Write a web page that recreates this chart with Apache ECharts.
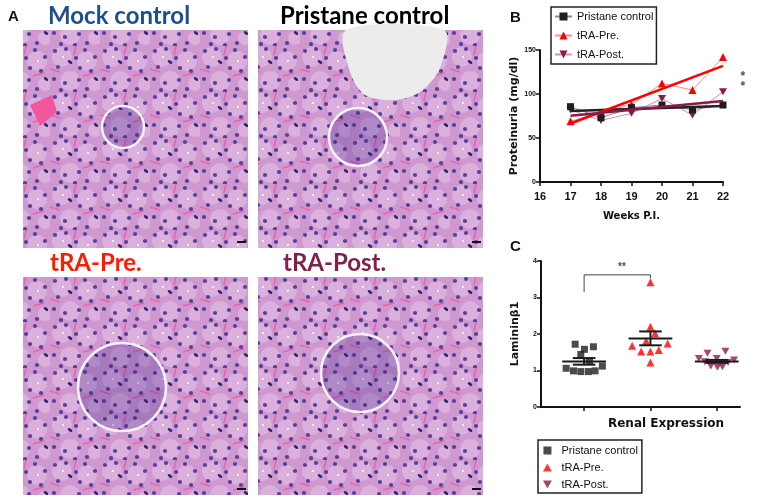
<!DOCTYPE html>
<html><head><meta charset="utf-8">
<script src="https://cdn.jsdelivr.net/npm/echarts@6/dist/echarts.min.js"></script>
<style>html,body{margin:0;padding:0;background:#fff}#c{width:765px;height:499px}</style>
</head><body><div id="c"></div>
<script>
// ---- Panel B: proteinuria over weeks ----
const weeks = [17, 18, 19, 20, 21, 22];
const pristaneProt = [85.6, 73, 84.5, 87.5, 82, 87.5];
const preProt = [69, 79, 88, 112, 104.5, 142];
const postProt = [82, 70, 78, 95, 76, 102.6];
const fitWeeks = [17, 22];
const pristaneFit = [80.7, 86.4];
const preFit = [66.5, 132];
const postFit = [75.4, 92];
const sigBWeek = [22.26, 22.26];
const sigBVals = [139.8, 88.6];
const starsBWeek = [22.65, 22.65];
const starsBVals = [120, 108.5];

// ---- Panel C: Laminin beta1 renal expression ----
const groupNames = ['Pristane control', 'tRA-Pre.', 'tRA-Post.'];
const pristaneLam = [1.72, 1.58, 1.65, 1.44, 1.26, 1.06, 0.99, 0.97, 0.97, 0.99, 1.12];
const pristanePos = [0.865, 1.005, 1.14, 0.95, 1.08, 0.73, 0.84, 0.95, 1.065, 1.165, 1.275];
const preLam = [3.42, 2.2, 2.02, 1.81, 1.68, 1.74, 1.52, 1.52, 1.56, 1.22];
const prePos = [2.0, 2.0, 2.07, 1.935, 1.725, 2.26, 1.86, 2.0, 2.125, 2.0];
const postLam = [1.33, 1.47, 1.24, 1.12, 1.33, 1.09, 1.10, 1.53, 1.22, 1.29];
const postPos = [2.73, 2.86, 2.82, 2.91, 3.0, 3.01, 3.085, 3.13, 3.17, 3.26];
const lamMean = [1.25, 1.88, 1.25];
const lamSem = [0.09, 0.19, 0.04];
const bracketX = [1, 1, 2, 2];
const bracketY = [3.15, 3.62, 3.62, 3.53];
const starsCPos = [1.57, 3.84];

const zip = (a, b) => a.map((v, i) => [v, b[i]]);
const downTri = 'path://M0,0 L10,0 L5,9 Z';
const upTri = 'path://M5,0 L10,9 L0,9 Z';
const square = 'path://M0,0 L10,0 L10,10 L0,10 Z';
const BLACK = '#1e1e1e', RED = '#ff0000', MAG = '#8b1a4a';

// ---- decorative tissue texture (fixed tile) ----
function tissueTile() {
  const c = document.createElement('canvas');
  c.width = 50; c.height = 46;
  const x = c.getContext('2d');
  x.fillStyle = '#cf99cf'; x.fillRect(0, 0, 50, 46);
  x.fillStyle = '#dcb0dc';
  [[12, 11, 10], [37, 15, 10], [20, 35, 10], [45, 38, 7]].forEach(p => { x.beginPath(); x.arc(p[0], p[1], p[2], 0, 7); x.fill(); });
  x.strokeStyle = '#ec62ad'; x.lineWidth = 1.6;
  x.beginPath(); x.moveTo(0, 23); x.lineTo(10, 26); x.moveTo(26, 0); x.lineTo(24, 9); x.moveTo(33, 30); x.lineTo(44, 27); x.stroke();
  x.fillStyle = '#f2eef4';
  x.fillRect(12, 10, 2, 2); x.fillRect(37, 14, 2, 2);
  x.fillStyle = '#55419c';
  [[5, 5], [16, 3], [26, 12], [35, 4], [45, 11], [8, 21], [30, 22], [41, 25], [4, 33], [15, 37], [29, 34], [11, 44], [25, 45], [37, 43]]
    .forEach(p => { x.beginPath(); x.arc(p[0], p[1], 2.1, 0, 7); x.fill(); });
  x.fillStyle = '#2e2274';
  [[20, 16], [46, 33]].forEach(p => { x.beginPath(); x.ellipse(p[0], p[1], 2.6, 1.4, 0.6, 0, 7); x.fill(); });
  return c;
}
const tile = tissueTile();
const tex = { image: tile, repeat: 'repeat' };

function panel(x0, y0, glom, extra) {
  const els = [{ type: 'rect', shape: { x: x0, y: y0, width: 225, height: 218 }, style: { fill: tex }, z: 1 }];
  (extra || []).forEach(e => els.push(e));
  els.push({ type: 'circle', shape: { cx: glom[0], cy: glom[1], r: glom[2] }, style: { fill: 'rgba(70,40,140,0.28)', stroke: '#f6f0f8', lineWidth: 2.5 }, z: 3 });
  els.push({ type: 'rect', shape: { x: x0 + 214, y: y0 + 211, width: 9, height: 2 }, style: { fill: '#111' }, z: 4 });
  return els;
}
const titleFont = '700 24px Lato, "Open Sans", sans-serif';
const graphics = [].concat(
  panel(23, 30, [123, 127, 21], [
    { type: 'polygon', shape: { points: [[30, 105], [52, 95], [57, 112], [40, 126]] }, style: { fill: '#f0579f' }, z: 2 }
  ]),
  panel(258, 30, [358, 137, 29], [
    { type: 'polygon', shape: { smooth: 0.3, points: [[346, 30], [444, 30], [440, 68], [420, 92], [395, 100], [365, 95], [350, 72]] }, style: { fill: '#ececec' }, z: 2 }
  ]),
  panel(23, 277, [122, 387, 44]),
  panel(258, 277, [360, 373, 39]),
  [
    { type: 'text', style: { text: 'A', x: 8, y: 17, font: '700 15px "Liberation Sans", Arial', fill: '#111', verticalAlign: 'middle' } },
    { type: 'text', style: { text: 'B', x: 510, y: 18, font: '700 15px "Liberation Sans", Arial', fill: '#111', verticalAlign: 'middle' } },
    { type: 'text', style: { text: 'C', x: 510, y: 247, font: '700 15px "Liberation Sans", Arial', fill: '#111', verticalAlign: 'middle' } },
    { type: 'text', style: { text: 'Mock control', x: 48, y: 16, font: titleFont, fill: '#1f4e8c', verticalAlign: 'middle' } },
    { type: 'text', style: { text: 'Pristane control', x: 280, y: 16, font: titleFont, fill: '#000', verticalAlign: 'middle' } },
    { type: 'text', style: { text: 'tRA-Pre.', x: 50, y: 263, font: titleFont, fill: '#ff1a00', verticalAlign: 'middle' } },
    { type: 'text', style: { text: 'tRA-Post.', x: 283, y: 263, font: titleFont, fill: '#82204c', verticalAlign: 'middle' } },
    { type: 'text', style: { text: 'Renal Expression', x: 666, y: 424, font: '700 12px "DejaVu Sans"', fill: '#111', align: 'center', verticalAlign: 'middle' } }
  ]
);

const axisLine = { lineStyle: { color: '#111', width: 2 } };
const axisTick = { lineStyle: { color: '#111', width: 1.5 }, length: 4 };
const tinyLbl = { fontSize: 7, fontWeight: 'bold', color: '#111', fontFamily: 'Liberation Sans', margin: 4 };
const yName = { fontSize: 11, fontWeight: 'bold', color: '#111', fontFamily: 'DejaVu Sans' };

const chart = echarts.init(document.getElementById('c'), null, { renderer: 'canvas' });
chart.setOption({
  animation: false,
  backgroundColor: '#fff',
  graphic: graphics,
  grid: [
    { left: 540, top: 50, width: 183, height: 132 },
    { left: 541, top: 261, width: 199, height: 146 }
  ],
  xAxis: [
    { gridIndex: 0, type: 'value', min: 16, max: 22, interval: 1, splitLine: { show: false },
      axisLine, axisTick, axisLabel: { fontSize: 11, fontWeight: 'bold', color: '#111', fontFamily: 'Liberation Sans', margin: 9 },
      name: 'Weeks P.I.', nameLocation: 'middle', nameGap: 29,
      nameTextStyle: { fontSize: 10, fontWeight: 'bold', color: '#111', fontFamily: 'DejaVu Sans' } },
    { gridIndex: 1, type: 'value', min: 0.35, max: 3.35, splitLine: { show: false },
      axisLine, axisTick: { lineStyle: { color: '#111', width: 1.5 }, length: 4, customValues: [1, 2, 3] },
      axisLabel: { show: false } }
  ],
  yAxis: [
    { gridIndex: 0, type: 'value', min: 0, max: 150, interval: 50, splitLine: { show: false },
      axisLine: { show: true, lineStyle: { color: '#111', width: 2 } }, axisTick: { show: true, lineStyle: { color: '#111', width: 1.5 }, length: 4 }, axisLabel: tinyLbl,
      name: 'Proteinuria (mg/dl)', nameLocation: 'middle', nameGap: 20, nameRotate: 90, nameTextStyle: yName },
    { gridIndex: 1, type: 'value', min: 0, max: 4, interval: 1, splitLine: { show: false },
      axisLine: { show: true, lineStyle: { color: '#111', width: 2 } }, axisTick: { show: true, lineStyle: { color: '#111', width: 1.5 }, length: 4 }, axisLabel: tinyLbl,
      name: 'Lamininβ1', nameLocation: 'middle', nameGap: 20, nameRotate: 90, nameTextStyle: yName }
  ],
  legend: [
    { data: groupNames, orient: 'vertical', left: 551, top: 7, borderColor: '#222', borderWidth: 1.5, borderRadius: 0,
      padding: [4, 3, 4, 3], itemGap: 8, itemWidth: 17, itemHeight: 10, backgroundColor: '#fff',
      textStyle: { fontSize: 11, color: '#111', fontFamily: 'Liberation Sans' } },
    { data: [
        { name: 'C:' + groupNames[0], icon: square },
        { name: 'C:' + groupNames[1], icon: upTri },
        { name: 'C:' + groupNames[2], icon: downTri }
      ], orient: 'vertical', left: 538, top: 440, borderColor: '#222', borderWidth: 1.5, borderRadius: 0,
      padding: [5, 4, 3, 5], itemGap: 6, itemWidth: 18, itemHeight: 8,
      formatter: n => n.replace('C:', ''),
      textStyle: { fontSize: 11, color: '#111', fontFamily: 'Liberation Sans' } }
  ],
  series: [
    { name: groupNames[0], type: 'line', xAxisIndex: 0, yAxisIndex: 0, data: zip(weeks, pristaneProt),
      symbol: 'rect', symbolSize: 7, itemStyle: { color: BLACK }, lineStyle: { color: '#8a8a8a', width: 1 }, z: 5 },
    { name: groupNames[1], type: 'line', xAxisIndex: 0, yAxisIndex: 0, data: zip(weeks, preProt),
      symbol: 'triangle', symbolSize: 8, itemStyle: { color: RED }, lineStyle: { color: '#ff8a8a', width: 1 }, z: 4 },
    { name: groupNames[2], type: 'line', xAxisIndex: 0, yAxisIndex: 0, data: zip(weeks, postProt),
      symbol: downTri, symbolSize: [8, 7], itemStyle: { color: MAG }, lineStyle: { color: '#d78fb5', width: 1 }, z: 4 },
    { name: 'fitP', type: 'line', xAxisIndex: 0, yAxisIndex: 0, data: zip(fitWeeks, pristaneFit), symbol: 'none', lineStyle: { color: '#222', width: 2.5 }, z: 6 },
    { name: 'fitR', type: 'line', xAxisIndex: 0, yAxisIndex: 0, data: zip(fitWeeks, preFit), symbol: 'none', lineStyle: { color: RED, width: 2.5 }, z: 6 },
    { name: 'fitM', type: 'line', xAxisIndex: 0, yAxisIndex: 0, data: zip(fitWeeks, postFit), symbol: 'none', lineStyle: { color: MAG, width: 2.5 }, z: 6 },
    { name: 'sigB', type: 'line', xAxisIndex: 0, yAxisIndex: 0, data: zip(sigBWeek, sigBVals), symbol: 'none', clip: false, lineStyle: { color: '#333', width: 1.2 } },
    { name: 'starsB', type: 'scatter', xAxisIndex: 0, yAxisIndex: 0, data: zip(starsBWeek, starsBVals), symbolSize: 0, clip: false,
      label: { show: true, position: 'inside', formatter: '*', fontSize: 12, fontWeight: 'bold', color: '#222', fontFamily: 'Liberation Sans' } },
    { name: 'C:' + groupNames[0], type: 'scatter', xAxisIndex: 1, yAxisIndex: 1, data: zip(pristanePos, pristaneLam),
      symbol: 'rect', symbolSize: 7, itemStyle: { color: BLACK }, z: 3 },
    { name: 'C:' + groupNames[1], type: 'scatter', xAxisIndex: 1, yAxisIndex: 1, data: zip(prePos, preLam),
      symbol: 'triangle', symbolSize: 8, itemStyle: { color: RED }, z: 3 },
    { name: 'C:' + groupNames[2], type: 'scatter', xAxisIndex: 1, yAxisIndex: 1, data: zip(postPos, postLam),
      symbol: downTri, symbolSize: [8, 7], itemStyle: { color: MAG }, z: 3 },
    { name: 'meanSem', type: 'custom', xAxisIndex: 1, yAxisIndex: 1, z: 5,
      data: lamMean.map((m, i) => [i + 1, m, lamSem[i]]),
      renderItem: (params, api) => {
        const g = api.value(0), m = api.value(1), s = api.value(2);
        const cM = api.coord([g, m]), cH = api.coord([g, m + s]), cL = api.coord([g, m - s]);
        const u = api.size([1, 0])[0];
        const wM = u * 0.33, wC = u * 0.17;
        const st = { stroke: '#1a1a1a', lineWidth: 2 };
        const ln = (x1, y1, x2, y2) => ({ type: 'line', shape: { x1, y1, x2, y2 }, style: st });
        return { type: 'group', children: [
          ln(cM[0] - wM, cM[1], cM[0] + wM, cM[1]),
          ln(cH[0], cH[1], cL[0], cL[1]),
          ln(cH[0] - wC, cH[1], cH[0] + wC, cH[1]),
          ln(cL[0] - wC, cL[1], cL[0] + wC, cL[1])
        ] };
      } },
    { name: 'bracket', type: 'line', xAxisIndex: 1, yAxisIndex: 1, data: zip(bracketX, bracketY), symbol: 'none', lineStyle: { color: '#444', width: 1 } },
    { name: 'starsC', type: 'scatter', xAxisIndex: 1, yAxisIndex: 1, data: [starsCPos], symbolSize: 0,
      label: { show: true, position: 'inside', formatter: '**', fontSize: 10, fontWeight: 'bold', color: '#222', fontFamily: 'Liberation Sans' } }
  ]
});
</script></body></html>
